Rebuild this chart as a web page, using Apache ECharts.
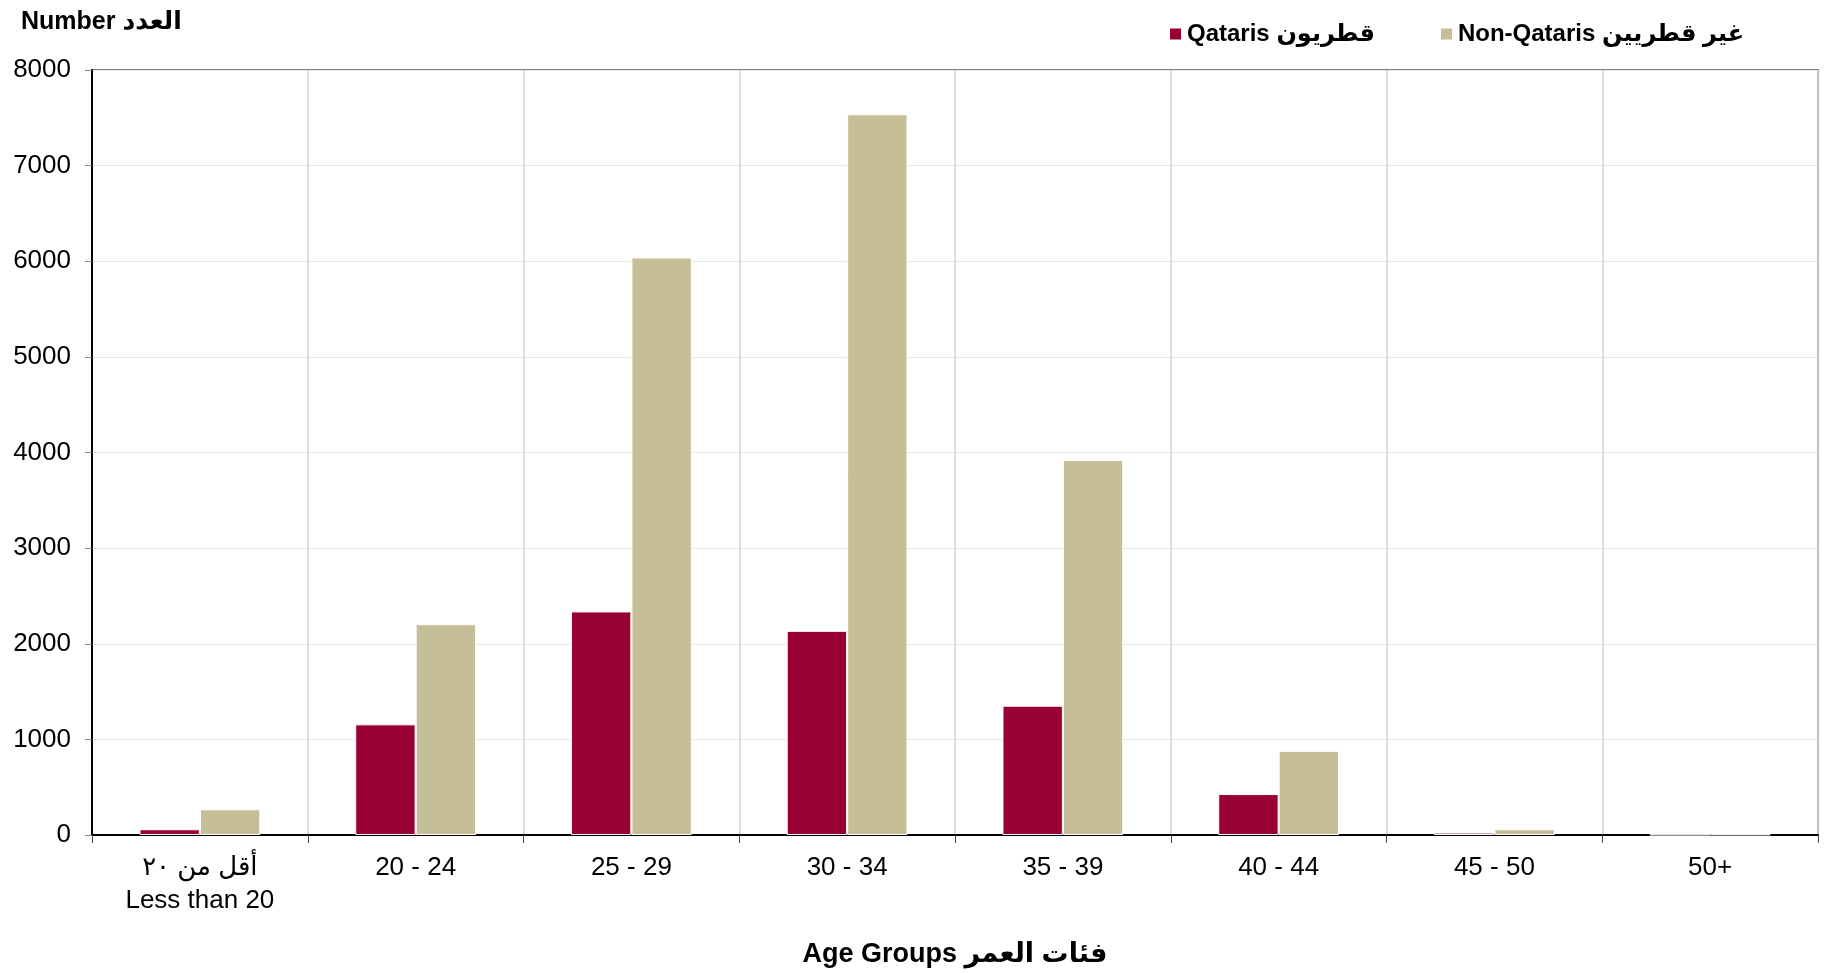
<!DOCTYPE html>
<html lang="en">
  <head>
    <meta charset="UTF-8" />
    <title>Age Groups</title>
    <script src="https://cdn.jsdelivr.net/npm/echarts@6.0.0/dist/echarts.min.js"></script>
    <style>
      html, body { margin: 0; padding: 0; background: #fff; }
    </style>
  </head>
  <body>
    <div id="main" style="width: 1825px; height: 973px"></div>
    <script type="text/javascript">
      // chart data
      const categories = ["أقل من ٢٠\nLess than 20", "20 - 24", "25 - 29", "30 - 34", "35 - 39", "40 - 44", "45 - 50", "50+"];
      const qataris = [60, 1157, 2338, 2135, 1352, 428, 25, 3];
      const nonQataris = [268, 2204, 6040, 7537, 3921, 880, 60, 5];
      const yTicks = [0, 1000, 2000, 3000, 4000, 5000, 6000, 7000, 8000];

      const font = "Liberation Sans, DejaVu Sans, Arial, sans-serif";

      let myChart = echarts.init(document.getElementById("main"));
      let options = {
        animation: false,
        textStyle: { fontFamily: font },
        title: {
          text: "Number العدد",
          left: 16,
          top: 5,
          textStyle: { fontFamily: font, fontSize: 25, fontWeight: "bold", color: "#000" },
        },
        legend: {
          left: 1163,
          top: 17,
          itemWidth: 13,
          itemHeight: 13,
          itemGap: 64,
          icon: "rect",
          textStyle: { fontFamily: font, fontSize: 24, fontWeight: "bold", color: "#000" },
          data: ["Qataris قطريون", "Non-Qataris غير قطريين"],
        },
        grid: {
          left: 92,
          right: 7,
          top: 70,
          bottom: 138,
          show: true,
          borderColor: "#808080",
          borderWidth: 2,
        },
        xAxis: {
          type: "category",
          data: categories,
          name: "Age Groups فئات العمر",
          nameLocation: "middle",
          nameGap: 106,
          nameTextStyle: { fontFamily: font, fontSize: 27, fontWeight: "bold", color: "#000" },
          axisLine: { lineStyle: { color: "#000", width: 2 } },
          axisTick: { show: true, length: 8, lineStyle: { color: "#444" } },
          axisLabel: { fontSize: 26, color: "#000", margin: 16, lineHeight: 33, interval: 0 },
          splitLine: { show: true, lineStyle: { color: "#d4d4d4", width: 1.5 } },
        },
        yAxis: {
          type: "value",
          min: yTicks[0],
          max: yTicks[yTicks.length - 1],
          interval: 1000,
          axisLine: { show: true, lineStyle: { color: "#000", width: 2 } },
          axisTick: { show: true, length: 7, lineStyle: { color: "#888" } },
          axisLabel: { fontSize: 26, color: "#000", margin: 21, formatter: (v) => String(v) },
          splitLine: { show: true, lineStyle: { color: "#e8e8e8" } },
        },
        series: [
          {
            name: "Qataris قطريون",
            type: "bar",
            data: qataris,
            barWidth: "28%",
            barGap: "0%",
            itemStyle: { color: "#990033", borderColor: "#fff", borderWidth: 1 },
          },
          {
            name: "Non-Qataris غير قطريين",
            type: "bar",
            data: nonQataris,
            barWidth: "28%",
            itemStyle: { color: "#c6be96", borderColor: "#fff", borderWidth: 1 },
          },
        ],
      };
      myChart.setOption(options);
    </script>
  </body>
</html>
